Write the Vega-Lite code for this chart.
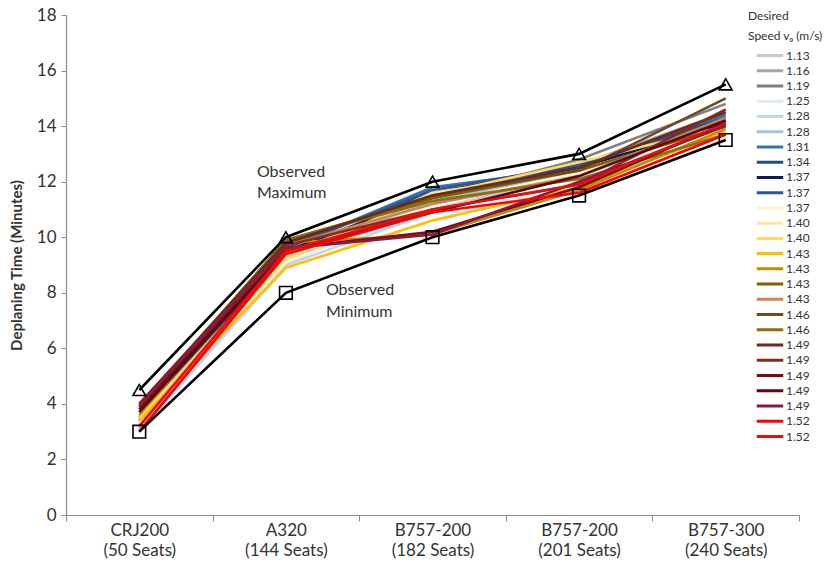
{
  "$schema": "https://vega.github.io/schema/vega-lite/v6.json",
  "width": 733,
  "height": 500,
  "autosize": {"type": "none"},
  "padding": {"left": 66, "top": 15, "right": 30, "bottom": 58},
  "background": "white",
  "config": {
    "view": {"stroke": null},
    "font": "Lato",
    "axis": {"domainColor": "#8c8c8c", "tickColor": "#8c8c8c", "labelColor": "#333333", "titleColor": "#333333", "grid": false, "labelFont": "Lato", "titleFont": "Lato"}
  },
  "datasets": {
    "obs": [
      {"kind": "max", "cat": "CRJ200|(50 Seats)", "t": 4.5},
      {"kind": "max", "cat": "A320|(144 Seats)", "t": 10.0},
      {"kind": "max", "cat": "B757-200|(182 Seats)", "t": 12.0},
      {"kind": "max", "cat": "B757-200|(201 Seats)", "t": 13.0},
      {"kind": "max", "cat": "B757-300|(240 Seats)", "t": 15.5},
      {"kind": "min", "cat": "CRJ200|(50 Seats)", "t": 3.0},
      {"kind": "min", "cat": "A320|(144 Seats)", "t": 8.0},
      {"kind": "min", "cat": "B757-200|(182 Seats)", "t": 10.0},
      {"kind": "min", "cat": "B757-200|(201 Seats)", "t": 11.5},
      {"kind": "min", "cat": "B757-300|(240 Seats)", "t": 13.5}
    ],
    "ann": [
      {"kind": "max", "cat": "A320|(144 Seats)", "t": 12.35, "label": "Observed"},
      {"kind": "max", "cat": "A320|(144 Seats)", "t": 11.59, "label": "Maximum"},
      {"kind": "min", "cat": "A320|(144 Seats)", "t": 8.1, "label": "Observed"},
      {"kind": "min", "cat": "A320|(144 Seats)", "t": 7.31, "label": "Minimum"}
    ],
    "sim": [
      {"s": "01|1.13", "cat": "CRJ200|(50 Seats)", "t": 3.0},
      {"s": "01|1.13", "cat": "A320|(144 Seats)", "t": 9.2},
      {"s": "01|1.13", "cat": "B757-200|(182 Seats)", "t": 11.0},
      {"s": "01|1.13", "cat": "B757-200|(201 Seats)", "t": 12.3},
      {"s": "01|1.13", "cat": "B757-300|(240 Seats)", "t": 14.2},
      {"s": "02|1.16", "cat": "CRJ200|(50 Seats)", "t": 3.1},
      {"s": "02|1.16", "cat": "A320|(144 Seats)", "t": 9.1},
      {"s": "02|1.16", "cat": "B757-200|(182 Seats)", "t": 11.2},
      {"s": "02|1.16", "cat": "B757-200|(201 Seats)", "t": 12.6},
      {"s": "02|1.16", "cat": "B757-300|(240 Seats)", "t": 14.5},
      {"s": "03|1.19", "cat": "CRJ200|(50 Seats)", "t": 3.3},
      {"s": "03|1.19", "cat": "A320|(144 Seats)", "t": 9.5},
      {"s": "03|1.19", "cat": "B757-200|(182 Seats)", "t": 11.4},
      {"s": "03|1.19", "cat": "B757-200|(201 Seats)", "t": 12.8},
      {"s": "03|1.19", "cat": "B757-300|(240 Seats)", "t": 14.8},
      {"s": "04|1.25", "cat": "CRJ200|(50 Seats)", "t": 3.0},
      {"s": "04|1.25", "cat": "A320|(144 Seats)", "t": 8.9},
      {"s": "04|1.25", "cat": "B757-200|(182 Seats)", "t": 10.6},
      {"s": "04|1.25", "cat": "B757-200|(201 Seats)", "t": 12.0},
      {"s": "04|1.25", "cat": "B757-300|(240 Seats)", "t": 13.7},
      {"s": "05|1.28", "cat": "CRJ200|(50 Seats)", "t": 3.0},
      {"s": "05|1.28", "cat": "A320|(144 Seats)", "t": 9.0},
      {"s": "05|1.28", "cat": "B757-200|(182 Seats)", "t": 10.9},
      {"s": "05|1.28", "cat": "B757-200|(201 Seats)", "t": 12.2},
      {"s": "05|1.28", "cat": "B757-300|(240 Seats)", "t": 14.0},
      {"s": "06|1.28", "cat": "CRJ200|(50 Seats)", "t": 3.1},
      {"s": "06|1.28", "cat": "A320|(144 Seats)", "t": 9.3},
      {"s": "06|1.28", "cat": "B757-200|(182 Seats)", "t": 11.3},
      {"s": "06|1.28", "cat": "B757-200|(201 Seats)", "t": 12.4},
      {"s": "06|1.28", "cat": "B757-300|(240 Seats)", "t": 14.3},
      {"s": "07|1.31", "cat": "CRJ200|(50 Seats)", "t": 3.4},
      {"s": "07|1.31", "cat": "A320|(144 Seats)", "t": 9.6},
      {"s": "07|1.31", "cat": "B757-200|(182 Seats)", "t": 11.8},
      {"s": "07|1.31", "cat": "B757-200|(201 Seats)", "t": 12.5},
      {"s": "07|1.31", "cat": "B757-300|(240 Seats)", "t": 14.4},
      {"s": "08|1.34", "cat": "CRJ200|(50 Seats)", "t": 3.5},
      {"s": "08|1.34", "cat": "A320|(144 Seats)", "t": 9.7},
      {"s": "08|1.34", "cat": "B757-200|(182 Seats)", "t": 11.6},
      {"s": "08|1.34", "cat": "B757-200|(201 Seats)", "t": 12.6},
      {"s": "08|1.34", "cat": "B757-300|(240 Seats)", "t": 14.3},
      {"s": "09|1.37", "cat": "CRJ200|(50 Seats)", "t": 3.4},
      {"s": "09|1.37", "cat": "A320|(144 Seats)", "t": 9.5},
      {"s": "09|1.37", "cat": "B757-200|(182 Seats)", "t": 11.5},
      {"s": "09|1.37", "cat": "B757-200|(201 Seats)", "t": 12.5},
      {"s": "09|1.37", "cat": "B757-300|(240 Seats)", "t": 14.1},
      {"s": "10|1.37", "cat": "CRJ200|(50 Seats)", "t": 3.5},
      {"s": "10|1.37", "cat": "A320|(144 Seats)", "t": 9.6},
      {"s": "10|1.37", "cat": "B757-200|(182 Seats)", "t": 11.7},
      {"s": "10|1.37", "cat": "B757-200|(201 Seats)", "t": 12.6},
      {"s": "10|1.37", "cat": "B757-300|(240 Seats)", "t": 14.2},
      {"s": "11|1.37", "cat": "CRJ200|(50 Seats)", "t": 3.3},
      {"s": "11|1.37", "cat": "A320|(144 Seats)", "t": 9.1},
      {"s": "11|1.37", "cat": "B757-200|(182 Seats)", "t": 11.2},
      {"s": "11|1.37", "cat": "B757-200|(201 Seats)", "t": 12.3},
      {"s": "11|1.37", "cat": "B757-300|(240 Seats)", "t": 13.9},
      {"s": "12|1.40", "cat": "CRJ200|(50 Seats)", "t": 3.4},
      {"s": "12|1.40", "cat": "A320|(144 Seats)", "t": 9.2},
      {"s": "12|1.40", "cat": "B757-200|(182 Seats)", "t": 11.6},
      {"s": "12|1.40", "cat": "B757-200|(201 Seats)", "t": 12.4},
      {"s": "12|1.40", "cat": "B757-300|(240 Seats)", "t": 14.0},
      {"s": "13|1.40", "cat": "CRJ200|(50 Seats)", "t": 3.5},
      {"s": "13|1.40", "cat": "A320|(144 Seats)", "t": 9.3},
      {"s": "13|1.40", "cat": "B757-200|(182 Seats)", "t": 11.5},
      {"s": "13|1.40", "cat": "B757-200|(201 Seats)", "t": 12.7},
      {"s": "13|1.40", "cat": "B757-300|(240 Seats)", "t": 14.0},
      {"s": "14|1.43", "cat": "CRJ200|(50 Seats)", "t": 3.4},
      {"s": "14|1.43", "cat": "A320|(144 Seats)", "t": 8.9},
      {"s": "14|1.43", "cat": "B757-200|(182 Seats)", "t": 10.6},
      {"s": "14|1.43", "cat": "B757-200|(201 Seats)", "t": 11.8},
      {"s": "14|1.43", "cat": "B757-300|(240 Seats)", "t": 13.8},
      {"s": "15|1.43", "cat": "CRJ200|(50 Seats)", "t": 3.6},
      {"s": "15|1.43", "cat": "A320|(144 Seats)", "t": 9.8},
      {"s": "15|1.43", "cat": "B757-200|(182 Seats)", "t": 10.1},
      {"s": "15|1.43", "cat": "B757-200|(201 Seats)", "t": 11.7},
      {"s": "15|1.43", "cat": "B757-300|(240 Seats)", "t": 13.9},
      {"s": "16|1.43", "cat": "CRJ200|(50 Seats)", "t": 3.8},
      {"s": "16|1.43", "cat": "A320|(144 Seats)", "t": 9.9},
      {"s": "16|1.43", "cat": "B757-200|(182 Seats)", "t": 11.4},
      {"s": "16|1.43", "cat": "B757-200|(201 Seats)", "t": 12.4},
      {"s": "16|1.43", "cat": "B757-300|(240 Seats)", "t": 14.0},
      {"s": "17|1.43", "cat": "CRJ200|(50 Seats)", "t": 3.7},
      {"s": "17|1.43", "cat": "A320|(144 Seats)", "t": 9.7},
      {"s": "17|1.43", "cat": "B757-200|(182 Seats)", "t": 11.2},
      {"s": "17|1.43", "cat": "B757-200|(201 Seats)", "t": 12.2},
      {"s": "17|1.43", "cat": "B757-300|(240 Seats)", "t": 14.3},
      {"s": "18|1.46", "cat": "CRJ200|(50 Seats)", "t": 3.9},
      {"s": "18|1.46", "cat": "A320|(144 Seats)", "t": 9.8},
      {"s": "18|1.46", "cat": "B757-200|(182 Seats)", "t": 11.5},
      {"s": "18|1.46", "cat": "B757-200|(201 Seats)", "t": 12.4},
      {"s": "18|1.46", "cat": "B757-300|(240 Seats)", "t": 15.0},
      {"s": "19|1.46", "cat": "CRJ200|(50 Seats)", "t": 3.9},
      {"s": "19|1.46", "cat": "A320|(144 Seats)", "t": 9.9},
      {"s": "19|1.46", "cat": "B757-200|(182 Seats)", "t": 11.3},
      {"s": "19|1.46", "cat": "B757-200|(201 Seats)", "t": 12.1},
      {"s": "19|1.46", "cat": "B757-300|(240 Seats)", "t": 13.7},
      {"s": "20|1.49", "cat": "CRJ200|(50 Seats)", "t": 4.0},
      {"s": "20|1.49", "cat": "A320|(144 Seats)", "t": 9.8},
      {"s": "20|1.49", "cat": "B757-200|(182 Seats)", "t": 11.5},
      {"s": "20|1.49", "cat": "B757-200|(201 Seats)", "t": 12.5},
      {"s": "20|1.49", "cat": "B757-300|(240 Seats)", "t": 14.5},
      {"s": "21|1.49", "cat": "CRJ200|(50 Seats)", "t": 3.9},
      {"s": "21|1.49", "cat": "A320|(144 Seats)", "t": 9.7},
      {"s": "21|1.49", "cat": "B757-200|(182 Seats)", "t": 11.0},
      {"s": "21|1.49", "cat": "B757-200|(201 Seats)", "t": 11.9},
      {"s": "21|1.49", "cat": "B757-300|(240 Seats)", "t": 14.6},
      {"s": "22|1.49", "cat": "CRJ200|(50 Seats)", "t": 3.8},
      {"s": "22|1.49", "cat": "A320|(144 Seats)", "t": 9.6},
      {"s": "22|1.49", "cat": "B757-200|(182 Seats)", "t": 10.2},
      {"s": "22|1.49", "cat": "B757-200|(201 Seats)", "t": 11.8},
      {"s": "22|1.49", "cat": "B757-300|(240 Seats)", "t": 14.1},
      {"s": "23|1.49", "cat": "CRJ200|(50 Seats)", "t": 3.7},
      {"s": "23|1.49", "cat": "A320|(144 Seats)", "t": 9.5},
      {"s": "23|1.49", "cat": "B757-200|(182 Seats)", "t": 10.9},
      {"s": "23|1.49", "cat": "B757-200|(201 Seats)", "t": 12.2},
      {"s": "23|1.49", "cat": "B757-300|(240 Seats)", "t": 14.2},
      {"s": "24|1.49", "cat": "CRJ200|(50 Seats)", "t": 4.0},
      {"s": "24|1.49", "cat": "A320|(144 Seats)", "t": 9.6},
      {"s": "24|1.49", "cat": "B757-200|(182 Seats)", "t": 10.1},
      {"s": "24|1.49", "cat": "B757-200|(201 Seats)", "t": 12.0},
      {"s": "24|1.49", "cat": "B757-300|(240 Seats)", "t": 14.0},
      {"s": "25|1.52", "cat": "CRJ200|(50 Seats)", "t": 3.0},
      {"s": "25|1.52", "cat": "A320|(144 Seats)", "t": 9.4},
      {"s": "25|1.52", "cat": "B757-200|(182 Seats)", "t": 10.9},
      {"s": "25|1.52", "cat": "B757-200|(201 Seats)", "t": 11.6},
      {"s": "25|1.52", "cat": "B757-300|(240 Seats)", "t": 13.7},
      {"s": "26|1.52", "cat": "CRJ200|(50 Seats)", "t": 3.2},
      {"s": "26|1.52", "cat": "A320|(144 Seats)", "t": 9.5},
      {"s": "26|1.52", "cat": "B757-200|(182 Seats)", "t": 11.0},
      {"s": "26|1.52", "cat": "B757-200|(201 Seats)", "t": 11.9},
      {"s": "26|1.52", "cat": "B757-300|(240 Seats)", "t": 14.1}
    ]
  },
  "encoding": {
    "x": {
      "field": "cat",
      "type": "nominal",
      "scale": {"type": "band", "paddingInner": 0, "paddingOuter": 0, "domain": ["CRJ200|(50 Seats)", "A320|(144 Seats)", "B757-200|(182 Seats)", "B757-200|(201 Seats)", "B757-300|(240 Seats)"]},
      "axis": {"title": null, "labelAngle": 0, "labelExpr": "isValid(datum.value) ? split(datum.value, '|') : ''", "labelFontSize": 17, "labelLineHeight": 20, "labelPadding": 1, "tickBand": "extent", "tickSize": 6, "domainWidth": 1.2}
    },
    "y": {
      "field": "t",
      "type": "quantitative",
      "scale": {"domain": [0, 18], "nice": false},
      "axis": {"title": "Deplaning Time (Minutes)", "titleFontSize": 15, "titleFontWeight": "bold", "titlePadding": 12, "values": [0, 2, 4, 6, 8, 10, 12, 14, 16, 18], "labelFontSize": 17, "tickSize": 5, "labelPadding": 5, "domainWidth": 1.2}
    }
  },
  "layer": [
    {
      "data": {"name": "sim"},
      "mark": {"type": "line", "strokeWidth": 2.6, "strokeJoin": "round"},
      "encoding": {
        "color": {
          "field": "s",
          "type": "nominal",
          "scale": {
            "domain": ["01|1.13", "02|1.16", "03|1.19", "04|1.25", "05|1.28", "06|1.28", "07|1.31", "08|1.34", "09|1.37", "10|1.37", "11|1.37", "12|1.40", "13|1.40", "14|1.43", "15|1.43", "16|1.43", "17|1.43", "18|1.46", "19|1.46", "20|1.49", "21|1.49", "22|1.49", "23|1.49", "24|1.49", "25|1.52", "26|1.52"],
            "range": ["#c9c9c9", "#a5a5a5", "#7f7f7f", "#ddebf7", "#bdd7ee", "#9dc3e6", "#2e75b6", "#1f4e79", "#0c1c5c", "#2f5597", "#fff2cc", "#ffe699", "#ffd966", "#ffc000", "#bf9000", "#806000", "#c9845b", "#6b4a28", "#8c6d10", "#6b2a1a", "#8b2a1c", "#7b0c0c", "#5c0714", "#8b1840", "#ff0000", "#e01010"]
          },
          "legend": {
            "orient": "none",
            "legendX": 682,
            "legendY": -4,
            "padding": 0,
            "title": ["Desired", "Speed vₒ (m/s)"],
            "titleFont": "Lato",
            "titleFontSize": 12,
            "titleFontWeight": "normal",
            "titleColor": "#333333",
            "titleLineHeight": 20,
            "titlePadding": 6,
            "symbolType": "stroke",
            "symbolStrokeWidth": 3,
            "symbolSize": 700,
            "symbolOffset": 7,
            "clipHeight": 13,
            "rowPadding": 2.24,
            "labelFont": "Lato",
            "labelFontSize": 12,
            "labelColor": "#333333",
            "labelOffset": 1,
            "labelExpr": "split(datum.value, '|')[1]"
          }
        }
      }
    },
    {
      "data": {"name": "obs"},
      "mark": {"type": "line", "color": "black", "strokeWidth": 2.6},
      "encoding": {"detail": {"field": "kind", "type": "nominal"}}
    },
    {
      "data": {"name": "obs"},
      "mark": {"type": "point", "filled": false, "stroke": "black", "strokeWidth": 1.6, "size": 160, "opacity": 1},
      "encoding": {"shape": {"field": "kind", "type": "nominal", "scale": {"domain": ["max", "min"], "range": ["triangle-up", "square"]}, "legend": null}}
    },
    {
      "data": {"name": "ann"},
      "transform": [{"filter": "datum.kind == 'max'"}],
      "mark": {"type": "text", "align": "left", "baseline": "middle", "dx": -29, "fontSize": 16, "color": "#333333", "font": "Lato"},
      "encoding": {"text": {"field": "label"}}
    },
    {
      "data": {"name": "ann"},
      "transform": [{"filter": "datum.kind == 'min'"}],
      "mark": {"type": "text", "align": "left", "baseline": "middle", "dx": 40, "fontSize": 16, "color": "#333333", "font": "Lato"},
      "encoding": {"text": {"field": "label"}}
    }
  ]
}
